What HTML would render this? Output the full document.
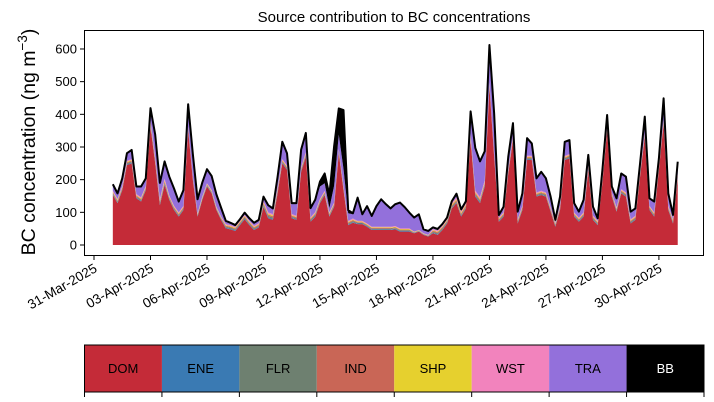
<!DOCTYPE html>
<html><head><meta charset="utf-8"><style>
html,body{margin:0;padding:0;background:#fff;}
svg{display:block;font-family:"Liberation Sans","DejaVu Sans",sans-serif;}
</style></head><body>
<svg id="chart" width="714" height="402" viewBox="0 0 714 402">
<text x="394" y="22" text-anchor="middle" font-size="15">Source contribution to BC concentrations</text>
<g id="plot"></g>
<rect x="84.5" y="30.5" width="619" height="225" fill="none" stroke="#000" stroke-width="1"/>
<g id="yaxis"></g>
<g id="xaxis"></g>
<text transform="translate(35,142) rotate(-90)" text-anchor="middle" font-size="19.5">BC concentration (ng m<tspan dy="-8" font-size="13.5">−3</tspan><tspan dy="8">)</tspan></text>
<g id="legend"></g>
</svg>
<script>
const ticksY = [0,100,200,300,400,500,600];
const tickDates = ["31-Mar-2025","03-Apr-2025","06-Apr-2025","09-Apr-2025","12-Apr-2025","15-Apr-2025","18-Apr-2025","21-Apr-2025","24-Apr-2025","27-Apr-2025","30-Apr-2025"];
const tickDays = [0,3,6,9,12,15,18,21,24,27,30];
const sources = ["DOM","ENE","FLR","IND","SHP","WST","TRA","BB"];
const colors = ["#c42b38","#3a7ab3","#6e8070","#c96656","#e6d02e","#f283bd","#9370db","#000000"];
// 6-hourly values from 01-Apr 00:00
const DOM = [153,128,168,245,250,143,133,168,362,250,122,184,138,107,87,107,352,199,87,138,179,158,107,77,51,48,43,61,79,61,46,54,117,82,77,158,250,230,82,77,224,270,71,87,128,153,87,117,281,168,61,68,64,64,56,46,46,46,46,46,48,41,41,41,36,41,31,26,36,31,46,66,112,128,87,112,321,148,128,179,485,270,71,87,219,321,66,107,260,260,148,153,148,102,56,107,260,265,87,71,87,230,77,61,189,352,148,102,158,148,66,77,209,331,107,87,230,372,107,66,204];
const TRA = [17,14,20,20,25,20,30,20,35,66,46,50,55,50,30,45,66,66,40,40,40,40,35,24,7,4,2,2,4,5,6,7,10,19,14,30,50,35,30,35,51,56,25,35,38,23,13,51,44,52,23,13,68,17,50,30,60,81,66,53,64,76,62,45,40,45,9,9,2,2,2,2,2,9,2,2,66,127,106,86,111,117,5,14,35,36,20,35,51,35,40,55,40,30,5,25,40,40,25,15,35,30,24,5,25,30,15,25,45,45,20,19,25,46,20,30,19,61,35,10,35];
const BB = [3,3,3,3,3,3,3,3,3,3,3,3,3,3,3,3,3,3,3,3,3,3,3,3,3,3,3,3,3,3,3,3,3,3,3,3,3,3,3,3,3,3,3,3,15,30,40,120,80,180,10,3,3,3,3,3,3,3,3,3,3,3,3,3,3,3,3,3,3,3,3,3,3,3,3,3,3,3,3,3,3,3,3,3,3,3,3,3,3,3,3,3,3,3,3,3,3,3,3,3,3,3,3,3,3,3,3,3,3,3,3,3,3,3,3,3,3,3,3,3,3];
// daily values (01-Apr .. 01-May)
const ENE = [2,2,3,2,2,2,2,2,3,2,2,2,2,2,2,2,1,2,2,3,2,2,2,2,2,2,2,2,2,2,2];
const FLR = [3,3,4,3,2,2,3,3,4,3,4,3,3,2,2,2,1,3,3,4,3,3,3,3,3,3,3,3,3,3,3];
const IND = [3,3,4,3,2,2,3,3,4,3,3,3,3,2,2,2,1,3,4,4,3,3,3,3,3,3,3,3,3,3,3];
const SHP = [2,2,3,2,2,2,2,2,3,2,2,2,2,2,2,2,1,2,3,3,2,2,2,2,2,2,2,2,2,2,2];
const WST = [3,3,5,3,2,2,3,3,4,3,3,3,3,2,2,2,1,3,5,5,3,3,3,3,3,3,3,3,3,3,3];

const NS="http://www.w3.org/2000/svg";
const X0=94, DX=18.83, Y0=245, PY=0.3267;
const xScale = d => X0 + d*DX;
const yScale = v => Y0 - v*PY;
function mk(tag, attrs, parent){const e=document.createElementNS(NS,tag);for(const k in attrs)e.setAttribute(k,attrs[k]);parent.appendChild(e);return e;}
const n = DOM.length;
const series = [DOM,
  DOM.map((_,i)=>ENE[Math.floor(i/4)]),
  DOM.map((_,i)=>FLR[Math.floor(i/4)]),
  DOM.map((_,i)=>IND[Math.floor(i/4)]),
  DOM.map((_,i)=>SHP[Math.floor(i/4)]),
  DOM.map((_,i)=>WST[Math.floor(i/4)]),
  TRA, BB];
const plot=document.getElementById('plot');
let base = new Array(n).fill(0);
series.forEach((s,j)=>{
  const top = base.map((b,i)=>b+s[i]);
  let d="";
  for(let i=0;i<n;i++) d+=(i?"L":"M")+xScale(1+i*0.25).toFixed(2)+","+yScale(top[i]).toFixed(2);
  for(let i=n-1;i>=0;i--) d+="L"+xScale(1+i*0.25).toFixed(2)+","+yScale(base[i]).toFixed(2);
  const p=mk('path',{d:d+"Z",fill:colors[j],stroke:"none"},plot);
  
  
  base = top;
});
let dl="";
for(let i=0;i<n;i++) dl+=(i?"L":"M")+xScale(1+i*0.25).toFixed(2)+","+yScale(base[i]).toFixed(2);
const tl=mk('path',{d:dl,fill:"none",stroke:"#000","stroke-width":2,"stroke-linejoin":"round"},plot);



const ya=document.getElementById('yaxis');
ticksY.forEach(v=>{
  const y=yScale(v);
  const t=mk('line',{x1:80,x2:84.5,y1:y,y2:y,stroke:"#000"},ya);
  
  
  const l=mk('text',{x:77,y:y+4.5,"text-anchor":"end","font-size":13},ya);
  l.textContent=v;
  
  
});
const xa=document.getElementById('xaxis');
tickDates.forEach((s,i)=>{
  const x=xScale(tickDays[i]);
  const t=mk('line',{x1:x,x2:x,y1:255.5,y2:260,stroke:"#000"},xa);
  
  
  const l=mk('text',{transform:`translate(${x+4},${271}) rotate(-30)`,"text-anchor":"end","font-size":13.5},xa);
  l.textContent=s;
  
  
});
const lg=document.getElementById('legend');
const LX=84.5, LW=(704-84.5)/8;
sources.forEach((s,j)=>{
  const r=mk('rect',{x:LX+j*LW,y:345,width:LW,height:47,fill:colors[j]},lg);
  
  
  const t=mk('text',{x:LX+j*LW+LW/2,y:373,"text-anchor":"middle","font-size":13,fill:j===7?"#fff":"#000"},lg);
  t.textContent=s;
  
  
});
for(let j=0;j<=8;j++){
  const x=LX+j*LW;
  const t=mk('line',{x1:x,x2:x,y1:392,y2:397,stroke:"#000"},lg);
  
  
}
const fr=mk('rect',{x:LX,y:345,width:619.5,height:47,fill:"none",stroke:"#000"},lg);


</script>
</body></html>
